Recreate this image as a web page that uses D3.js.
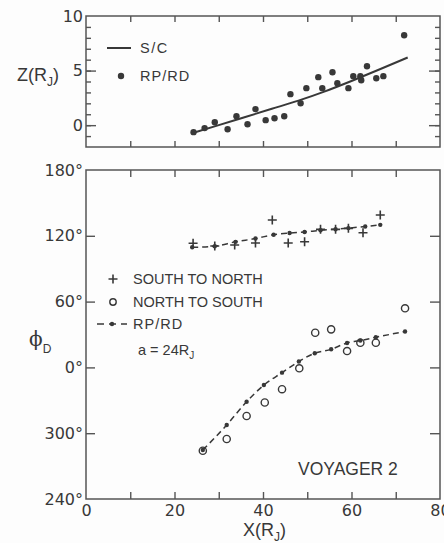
<!DOCTYPE html>
<html>
<head>
<meta charset="utf-8">
<script src="https://cdn.jsdelivr.net/npm/d3@7"></script>
<style>
  body { margin: 0; background: #fdfdfd; }
  svg { display: block; }
</style>
</head>
<body>
<svg class="fig" width="444" height="543"></svg>
<script>
// top panel: Z vs X
var zX   = [24.3, 26.8, 29.1, 32.0, 34.0, 36.5, 38.3, 40.6, 42.6, 44.8, 46.2, 48.5, 49.8,
            52.5, 53.4, 55.7, 56.8, 59.3, 60.4, 62.0, 62.2, 63.5, 65.6, 67.2, 71.9];
var zVal = [-0.64, -0.27, 0.27, -0.37, 0.82, 0.09, 1.47, 0.46, 0.64, 0.82, 2.84, 2.01, 3.39,
            4.40, 3.39, 4.85, 3.85, 3.39, 4.49, 4.49, 4.12, 5.40, 4.30, 4.49, 8.24];
var scX  = [24.3, 30, 36, 42, 48, 54, 60, 66, 72.7];
var scZ  = [-0.7, 0.0, 0.75, 1.5, 2.25, 3.1, 4.05, 5.05, 6.2];

// bottom panel: phi_D vs X (degrees, below 0 wraps to 360)
var snX    = [24.2, 29.1, 33.6, 38.3, 42.1, 45.7, 49.4, 53.0, 56.4, 59.3, 62.6, 66.5];
var snPhi  = [113.2, 110.7, 111.6, 113.4, 134.4, 113.4, 114.6, 125.9, 125.9, 126.8, 122.8, 139.0];
var nsX    = [26.4, 31.8, 36.3, 40.4, 44.3, 48.2, 51.8, 55.4, 59.0, 62.0, 65.5, 72.1];
var nsPhi  = [-76.0, -65.3, -44.3, -32.0, -19.9, -0.8, 31.6, 34.7, 14.9, 22.5, 22.5, 53.9];
var rpSnX   = [24.0, 29.1, 33.8, 38.3, 42.4, 46.0, 49.4, 53.0, 56.4, 59.3, 63.1, 66.5];
var rpSnPhi = [109.5, 110.5, 114.5, 117.5, 121, 122.5, 123.5, 125, 126, 127, 128.5, 130];
var rpNsX   = [26.4, 31.8, 36.3, 40.2, 44.3, 48.1, 51.7, 55.4, 59.0, 62.0, 65.5, 72.1];
var rpNsPhi = [-75.3, -52.5, -31.3, -16.1, -4.8, 5.4, 12.9, 16.5, 22.3, 24.5, 27.5, 32.7];

var xTicks = [0, 20, 40, 60, 80];
var phiTicks = [-120, -60, 0, 60, 120, 180];
var zTicks = [0, 5, 10];

var ink = "#383838";
var numFont = "DejaVu Sans";
var wordFont = "Liberation Sans";

var svg = d3.select(".fig");

var x = d3.scaleLinear().domain([0, 80]).range([86, 440]);
var zy = d3.scaleLinear().domain([-2, 10]).range([147, 16]);
var py = d3.scaleLinear().domain([-120, 180]).range([499, 170]);

function zip(a, b) { return a.map(function(d, i) { return [d, b[i]]; }); }

function frame(yScale) {
  svg.append("rect")
      .attr("x", x.range()[0])
      .attr("y", yScale.range()[1])
      .attr("width", x.range()[1] - x.range()[0])
      .attr("height", yScale.range()[0] - yScale.range()[1])
      .attr("fill", "none")
      .attr("stroke", "#555")
      .attr("stroke-width", 1.5);
}

function tickAxis(axis, tx, ty) {
  var g = svg.append("g")
      .attr("transform", "translate(" + tx + "," + ty + ")")
      .call(axis);
  g.select(".domain").remove();
  g.selectAll("line").attr("stroke", "#555").attr("stroke-width", 1.4);
  g.attr("font-family", numFont).attr("font-size", 16);
  g.selectAll("text").attr("fill", ink);
  return g;
}

// ---------- top panel ----------
frame(zy);
var tenth = d3.range(10, 80, 10);
tickAxis(d3.axisBottom(x).tickValues(tenth).tickSize(-6).tickFormat(""), 0, zy.range()[0]);
tickAxis(d3.axisTop(x).tickValues(tenth).tickSize(-6).tickFormat(""), 0, zy.range()[1]);
var zMinor = d3.range(-1, 10, 1);
tickAxis(d3.axisLeft(zy).tickValues(zMinor).tickSize(-5).tickFormat(""), x.range()[0], 0);
tickAxis(d3.axisRight(zy).tickValues(zMinor).tickSize(-5).tickFormat(""), x.range()[1], 0);
tickAxis(d3.axisLeft(zy).tickValues([0, 5]).tickSize(-10).tickFormat(""), x.range()[0], 0);
tickAxis(d3.axisRight(zy).tickValues([0, 5]).tickSize(-11).tickFormat(""), x.range()[1], 0);
tickAxis(d3.axisLeft(zy).tickValues(zTicks).tickSize(0).tickPadding(3), x.range()[0], 0);

var scLine = d3.line()
    .x(function(d) { return x(d[0]); })
    .y(function(d) { return zy(d[1]); })
    .curve(d3.curveMonotoneX);

svg.append("path")
    .datum(zip(scX, scZ))
    .attr("d", scLine)
    .attr("fill", "none")
    .attr("stroke", ink)
    .attr("stroke-width", 2);

svg.append("g").selectAll("circle")
    .data(zip(zX, zVal))
  .enter().append("circle")
    .attr("cx", function(d) { return x(d[0]); })
    .attr("cy", function(d) { return zy(d[1]); })
    .attr("r", 3.2)
    .attr("fill", ink);

// top legend
svg.append("line")
    .attr("x1", 107).attr("x2", 131).attr("y1", 48).attr("y2", 48)
    .attr("stroke", ink).attr("stroke-width", 2);
svg.append("circle").attr("cx", 121).attr("cy", 76).attr("r", 3.2).attr("fill", ink);

var words = svg.append("g")
    .attr("font-family", wordFont)
    .attr("font-size", 14.5)
    .attr("fill", ink);
words.append("text").attr("x", 140).attr("y", 53).attr("letter-spacing", 1.5).text("S/C");
words.append("text").attr("x", 140).attr("y", 81).attr("letter-spacing", 1).text("RP/RD");

var zlab = svg.append("text")
    .attr("x", 17).attr("y", 81)
    .attr("font-family", wordFont)
    .attr("font-size", 18)
    .attr("fill", ink);
zlab.append("tspan").text("Z(R");
zlab.append("tspan").attr("font-size", 12).attr("dy", 5).text("J");
zlab.append("tspan").attr("dy", -5).text(")");

// ---------- bottom panel ----------
frame(py);
tickAxis(d3.axisBottom(x).tickValues(tenth).tickSize(-7).tickFormat(""), 0, py.range()[0]);
tickAxis(d3.axisTop(x).tickValues(tenth).tickSize(-7).tickFormat(""), 0, py.range()[1]);
tickAxis(d3.axisBottom(x).tickValues(xTicks).tickSize(0).tickPadding(6), 0, py.range()[0]);
tickAxis(d3.axisLeft(py).tickValues([-60, 0, 60, 120]).tickSize(-9).tickFormat(""), x.range()[0], 0);
tickAxis(d3.axisRight(py).tickValues([-60, 0, 60, 120]).tickSize(-10).tickFormat(""), x.range()[1], 0);
tickAxis(d3.axisLeft(py).tickValues(phiTicks).tickSize(0).tickPadding(3)
    .tickFormat(function(d) { return ((d % 360) + 360) % 360 + "°"; }), x.range()[0], 0);

var rpLine = d3.line()
    .x(function(d) { return x(d[0]); })
    .y(function(d) { return py(d[1]); })
    .curve(d3.curveMonotoneX);

[zip(rpSnX, rpSnPhi), zip(rpNsX, rpNsPhi)].forEach(function(pts) {
  svg.append("path")
      .datum(pts)
      .attr("d", rpLine)
      .attr("fill", "none")
      .attr("stroke", ink)
      .attr("stroke-width", 1.5)
      .attr("stroke-dasharray", "6,4");
  svg.append("g").selectAll("circle")
      .data(pts)
    .enter().append("circle")
      .attr("cx", function(d) { return x(d[0]); })
      .attr("cy", function(d) { return py(d[1]); })
      .attr("r", 2.2)
      .attr("fill", ink);
});

var cross = d3.symbol().type(d3.symbolCross);
function plus(sel, cx, cy) {
  sel.append("path")
      .attr("d", "M" + (cx - 4.5) + "," + cy + "h9M" + cx + "," + (cy - 4.5) + "v9")
      .attr("stroke", ink)
      .attr("stroke-width", 1.6);
}
var sn = svg.append("g");
zip(snX, snPhi).forEach(function(d) { plus(sn, x(d[0]), py(d[1])); });

svg.append("g").selectAll("circle")
    .data(zip(nsX, nsPhi))
  .enter().append("circle")
    .attr("cx", function(d) { return x(d[0]); })
    .attr("cy", function(d) { return py(d[1]); })
    .attr("r", 3.6)
    .attr("fill", "none")
    .attr("stroke", ink)
    .attr("stroke-width", 1.4);

// bottom legend
plus(svg, 113, 279);
svg.append("circle").attr("cx", 113).attr("cy", 302).attr("r", 3.2)
    .attr("fill", "none").attr("stroke", ink).attr("stroke-width", 1.4);
svg.append("line")
    .attr("x1", 97).attr("x2", 127).attr("y1", 324).attr("y2", 324)
    .attr("stroke", ink).attr("stroke-width", 1.5).attr("stroke-dasharray", "7,5");
svg.append("circle").attr("cx", 112).attr("cy", 324).attr("r", 2.2).attr("fill", ink);

words.append("text").attr("x", 133).attr("y", 284).text("SOUTH TO NORTH");
words.append("text").attr("x", 133).attr("y", 307).text("NORTH TO SOUTH");
words.append("text").attr("x", 133).attr("y", 329).attr("letter-spacing", 1).text("RP/RD");

var alab = words.append("text").attr("x", 138).attr("y", 355);
alab.append("tspan").text("a = 24R");
alab.append("tspan").attr("font-size", 10).attr("dy", 4).text("J");

svg.append("text")
    .attr("x", 298).attr("y", 475)
    .attr("font-family", wordFont)
    .attr("font-size", 17.5)
    .attr("fill", ink)
    .text("VOYAGER 2");

var phlab = svg.append("text")
    .attr("x", 29).attr("y", 346)
    .attr("font-family", "DejaVu Serif")
    .attr("font-size", 20)
    .attr("fill", ink);
phlab.append("tspan").text("ϕ");
phlab.append("tspan").attr("font-family", wordFont).attr("font-size", 12).attr("dy", 7).text("D");

var xlab = svg.append("text")
    .attr("x", 243).attr("y", 536)
    .attr("font-family", wordFont)
    .attr("font-size", 18)
    .attr("fill", ink);
xlab.append("tspan").text("X(R");
xlab.append("tspan").attr("font-size", 12).attr("dy", 5).text("J");
xlab.append("tspan").attr("dy", -5).text(")");
</script>
</body>
</html>
